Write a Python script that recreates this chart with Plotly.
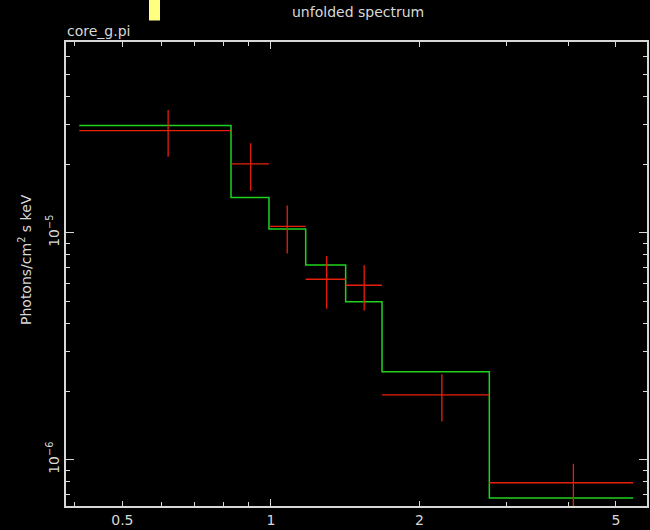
import plotly.graph_objects as go
import numpy as np

# Data
bin_lo = [0.409, 0.830, 0.991, 1.176, 1.417, 1.679, 2.77]
bin_hi = [0.830, 0.991, 1.176, 1.417, 1.679, 2.77, 5.42]
x_center = [0.619, 0.910, 1.079, 1.297, 1.545, 2.22, 4.10]
data_y = [2.82e-5, 2.01e-5, 1.067e-5, 6.24e-6, 5.87e-6, 1.93e-6, 7.92e-7]
data_y_hi = [3.47e-5, 2.48e-5, 1.32e-5, 7.9e-6, 7.19e-6, 2.38e-6, 9.6e-7]
data_y_lo = [2.16e-5, 1.53e-5, 8.11e-6, 4.63e-6, 4.54e-6, 1.474e-6, 5.9e-7]
model_y = [2.97e-5, 1.43e-5, 1.04e-5, 7.21e-6, 4.97e-6, 2.44e-6, 6.78e-7]

x_ticks = [0.5, 1, 2, 5]
x_ticklabels = ["0.5", "1", "2", "5"]
x_minor = [0.4, 0.6, 0.7, 0.8, 0.9, 3, 4]
y_ticks = [1e-6, 1e-5]
y_ticklabels = ["10<sup>\u22126</sup>", "10<sup>\u22125</sup>"]
y_minor = [7e-7, 8e-7, 9e-7, 2e-6, 3e-6, 4e-6, 5e-6, 6e-6, 7e-6, 8e-6, 9e-6,
           2e-5, 3e-5, 4e-5, 5e-5, 6e-5]

W, H = 650, 530
L, R, T, B = 66, 3, 42, 24
pw, ph = W - L - R, H - T - B

RED = "#e8200a"
GREEN = "#1ed21e"
FG = "#d8d8d8"
FONT = "DejaVu Sans"

fig = go.Figure()

# model step line
step_x = list(bin_lo) + [bin_hi[-1]]
step_y = list(model_y) + [model_y[-1]]
fig.add_trace(go.Scatter(x=step_x, y=step_y, mode="lines", line_shape="hv",
                         line=dict(color=GREEN, width=1.5), showlegend=False,
                         hoverinfo="skip"))

# data crosses
xc = np.array(x_center)
fig.add_trace(go.Scatter(
    x=x_center, y=data_y, mode="markers",
    marker=dict(size=1, color=RED),
    error_x=dict(type="data", symmetric=False,
                 array=list(np.array(bin_hi) - xc),
                 arrayminus=list(xc - np.array(bin_lo)),
                 color=RED, thickness=1.3, width=0),
    error_y=dict(type="data", symmetric=False,
                 array=list(np.array(data_y_hi) - np.array(data_y)),
                 arrayminus=list(np.array(data_y) - np.array(data_y_lo)),
                 color=RED, thickness=1.3, width=0),
    showlegend=False))

xr = [np.log10(0.3844), np.log10(5.78)]
yr = [-6.2037, -4.1597]

fig.update_layout(
    width=W, height=H,
    margin=dict(l=L, r=R, t=T, b=B, pad=0),
    paper_bgcolor="black", plot_bgcolor="black",
    font=dict(family=FONT, color=FG, size=13),
    showlegend=False,
    xaxis=dict(type="log", range=xr, showgrid=False, zeroline=False,
               automargin=False,
               showline=True, linecolor=FG, linewidth=1.5, mirror="ticks",
               ticks="inside", ticklen=5, tickwidth=1, tickcolor=FG,
               tickvals=x_ticks, ticktext=x_ticklabels,
               tickfont=dict(size=14, color=FG, family=FONT),
               minor=dict(tickvals=x_minor, ticks="inside", ticklen=4,
                          tickwidth=1, tickcolor=FG, showgrid=False)),
    yaxis=dict(type="log", range=yr, showgrid=False, zeroline=False,
               automargin=False,
               showline=True, linecolor=FG, linewidth=1.5, mirror="ticks",
               ticks="inside", ticklen=8, tickwidth=1, tickcolor=FG,
               tickvals=y_ticks, ticktext=y_ticklabels, tickangle=-90,
               tickfont=dict(size=14, color=FG, family=FONT),
               minor=dict(tickvals=y_minor, ticks="inside", ticklen=4,
                          tickwidth=1, tickcolor=FG, showgrid=False)),
    xaxis2=dict(type="log", range=xr, overlaying="x", side="bottom",
                automargin=False,
                showgrid=False, zeroline=False, showline=False,
                ticks="inside", ticklen=7, tickwidth=1, tickcolor=FG,
                tickvals=[1], showticklabels=False, mirror="ticks"),
)

# dummy trace to activate xaxis2
fig.add_trace(go.Scatter(x=[1], y=[1e-5], xaxis="x2", mode="markers",
                         marker=dict(size=0.1, opacity=0), showlegend=False,
                         hoverinfo="skip"))

fig.add_annotation(text="unfolded spectrum", xref="paper", yref="paper",
                   x=(358 - L) / pw, y=(H - B - 12) / ph, showarrow=False,
                   xanchor="center", yanchor="middle",
                   font=dict(size=14, color=FG, family=FONT))
fig.add_annotation(text="core_g.pi", xref="paper", yref="paper",
                   x=(65 - L) / pw, y=(H - B - 31) / ph, showarrow=False,
                   xanchor="left", yanchor="middle",
                   font=dict(size=14, color=FG, family=FONT))
fig.add_annotation(text="Photons/cm<sup>2</sup> s keV", xref="paper", yref="paper",
                   x=(25 - L) / pw, y=(H - B - 260) / ph, showarrow=False,
                   textangle=-90, xanchor="center", yanchor="middle",
                   font=dict(size=14, color=FG, family=FONT))

fig.add_shape(type="rect", xref="paper", yref="paper",
              x0=(149 - L) / pw, x1=(160 - L) / pw,
              y0=(H - B - 0) / ph, y1=(H - B - 20.5) / ph,
              fillcolor="#ffff80", line=dict(width=0))

fig.write_html("out.html", config={"displayModeBar": False},
               post_script="document.body.style.margin='0';document.body.style.padding='0';document.body.style.background='black';")
